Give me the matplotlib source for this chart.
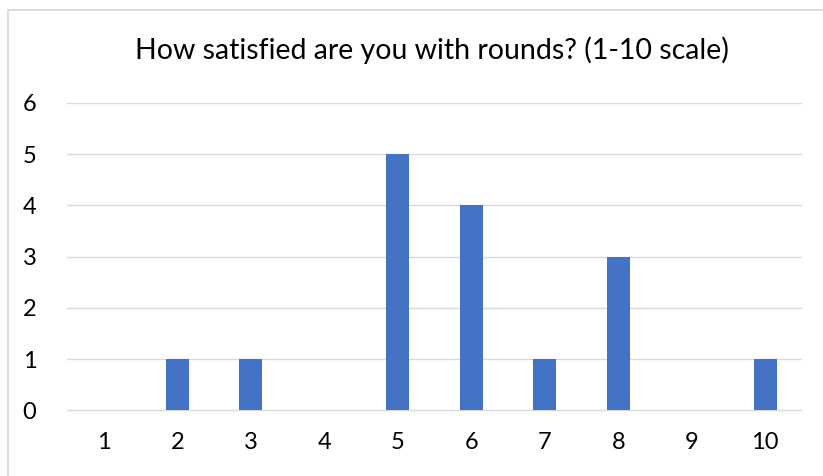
import matplotlib.pyplot as plt
from matplotlib.patches import Rectangle

plt.rcParams['font.family'] = ['Lato', 'DejaVu Sans']

ratings = ['1', '2', '3', '4', '5', '6', '7', '8', '9', '10']
counts = [0, 1, 1, 0, 5, 4, 1, 3, 0, 1]

W, H = 823, 476
fig = plt.figure(figsize=(W / 100, H / 100), dpi=100)

# chart area border (cropped on right and bottom)
fig.patches.append(Rectangle((8 / W, -0.1), 1.2, 1 - 10 / H + 0.1, transform=fig.transFigure,
                             fill=False, edgecolor='#d9d9d9', linewidth=1.3))

ax = fig.add_axes([67 / W, 1 - 436 / H, (802 - 67) / W, (436 - 103) / H])
x = list(range(len(ratings)))
ax.bar(x, counts, width=0.31, color='#4472C4', zorder=3)
ax.set_xlim(-0.5, len(ratings) - 0.5)
ax.set_ylim(-0.5, 6)
ax.set_yticks(range(0, 7))
ax.set_xticks(x)
ax.set_xticklabels(ratings)
for y in range(0, 7):
    ax.axhline(y, color='#d9d9d9', linewidth=1, zorder=1)
for s in ax.spines.values():
    s.set_visible(False)
ax.tick_params(length=0, labelsize=17, colors='black')
ax.tick_params(axis='y', pad=22)
ax.tick_params(axis='x', pad=-3)

fig.text(432 / W, 1 - 50 / H, 'How satisfied are you with rounds? (1-10 scale)',
         ha='center', va='center', fontsize=20.5)

fig.savefig('out.png', dpi=100)
